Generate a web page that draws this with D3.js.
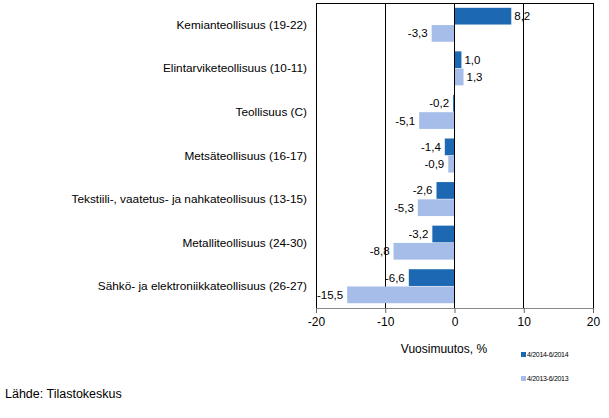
<!DOCTYPE html>
<html><head><meta charset="utf-8">
<script src="https://cdn.jsdelivr.net/npm/d3@7"></script>
<style>body{margin:0;background:#fff}svg{display:block}text{font-family:"Liberation Sans",Arial,sans-serif}</style>
</head><body>
<svg id="c" width="609" height="418"></svg>
<script>
const categories = ["Kemianteollisuus (19-22)","Elintarviketeollisuus (10-11)","Teollisuus (C)","Metsäteollisuus (16-17)","Tekstiili-, vaatetus- ja nahkateollisuus (13-15)","Metalliteollisuus (24-30)","Sähkö- ja elektroniikkateollisuus (26-27)"];
const series2014 = [8.2, 1.0, -0.2, -1.4, -2.6, -3.2, -6.6];
const series2013 = [-3.3, 1.3, -5.1, -0.9, -5.3, -8.8, -15.5];
const seriesNames = ["4/2014-6/2014","4/2013-6/2013"];
const xTicks = [-20,-10,0,10,20];
const colors = ["#1c68b2","#a6bde9"];

const svg = d3.select("#c");
const L=316, R=593, T=3, B=308;
const x = d3.scaleLinear().domain([-20,20]).range([L,R]);
const y = d3.scaleBand().domain(categories).range([T,B]).paddingInner(0.22).paddingOuter(0.11);
const sub = d3.scaleBand().domain([0,1]).range([0,y.bandwidth()]).paddingInner(0.03);

svg.append("g").selectAll("line").data([-10,10]).join("line")
  .attr("x1",d=>x(d)).attr("x2",d=>x(d)).attr("y1",T).attr("y2",B)
  .attr("stroke","#000").attr("stroke-width",1).attr("shape-rendering","crispEdges");
svg.append("path").attr("d",`M${L},${B}V${T}H${R}V${B}`).attr("fill","none").attr("stroke","#000").attr("shape-rendering","crispEdges");

const data = [];
categories.forEach((c,i)=>{
  data.push({c, s:0, v:series2014[i]});
  data.push({c, s:1, v:series2013[i]});
});
svg.append("g").selectAll("rect").data(data).join("rect")
  .attr("x",d=>x(Math.min(0,d.v))).attr("width",d=>Math.abs(x(d.v)-x(0)))
  .attr("y",d=>y(d.c)+sub(d.s)).attr("height",sub.bandwidth())
  .attr("fill",d=>colors[d.s]);

svg.append("line").attr("x1",x(0)).attr("x2",x(0)).attr("y1",T).attr("y2",B)
  .attr("stroke","#000").attr("shape-rendering","crispEdges");

const fmt = v => d3.format(".1f")(v).replace(".",",").replace("−","-");
svg.append("g").selectAll("text").data(data).join("text")
  .attr("x",d=>d.v>=0 ? x(d.v)+3 : x(d.v)-4)
  .attr("y",d=>y(d.c)+sub(d.s)+sub.bandwidth()/2)
  .attr("dy","0.35em").attr("text-anchor",d=>d.v>=0?"start":"end")
  .attr("font-size",11.5).attr("fill","#000").text(d=>fmt(d.v));

svg.append("g").selectAll("text").data(categories).join("text")
  .attr("x",307).attr("y",d=>y(d)+y.bandwidth()/2).attr("dy","0.35em")
  .attr("text-anchor","end").attr("font-size",11.8).text(d=>d);

const xa = svg.append("g").attr("transform",`translate(0,${B})`)
  .call(d3.axisBottom(x).tickValues(xTicks).tickSize(5).tickPadding(4).tickFormat(d=>String(d)));
xa.select(".domain").attr("stroke","#888").attr("d",`M${L},0.5H${R}`);
xa.selectAll(".tick line").attr("stroke","#666");
xa.selectAll("text").attr("font-size",12).attr("font-family","Liberation Sans, Arial, sans-serif").attr("fill","#000");

svg.append("text").attr("x",444).attr("y",353).attr("text-anchor","middle").attr("font-size",12).text("Vuosimuutos, %");

const lg = svg.append("g");
seriesNames.forEach((n,i)=>{
  lg.append("rect").attr("x",521).attr("y",352+i*24).attr("width",5).attr("height",5).attr("fill",colors[i]);
  lg.append("text").attr("x",527).attr("y",357+i*24).attr("font-size",7).attr("letter-spacing","-0.3").text(n);
});

svg.append("text").attr("x",5).attr("y",398).attr("font-size",12.5).text("Lähde: Tilastokeskus");
</script>
</body></html>
